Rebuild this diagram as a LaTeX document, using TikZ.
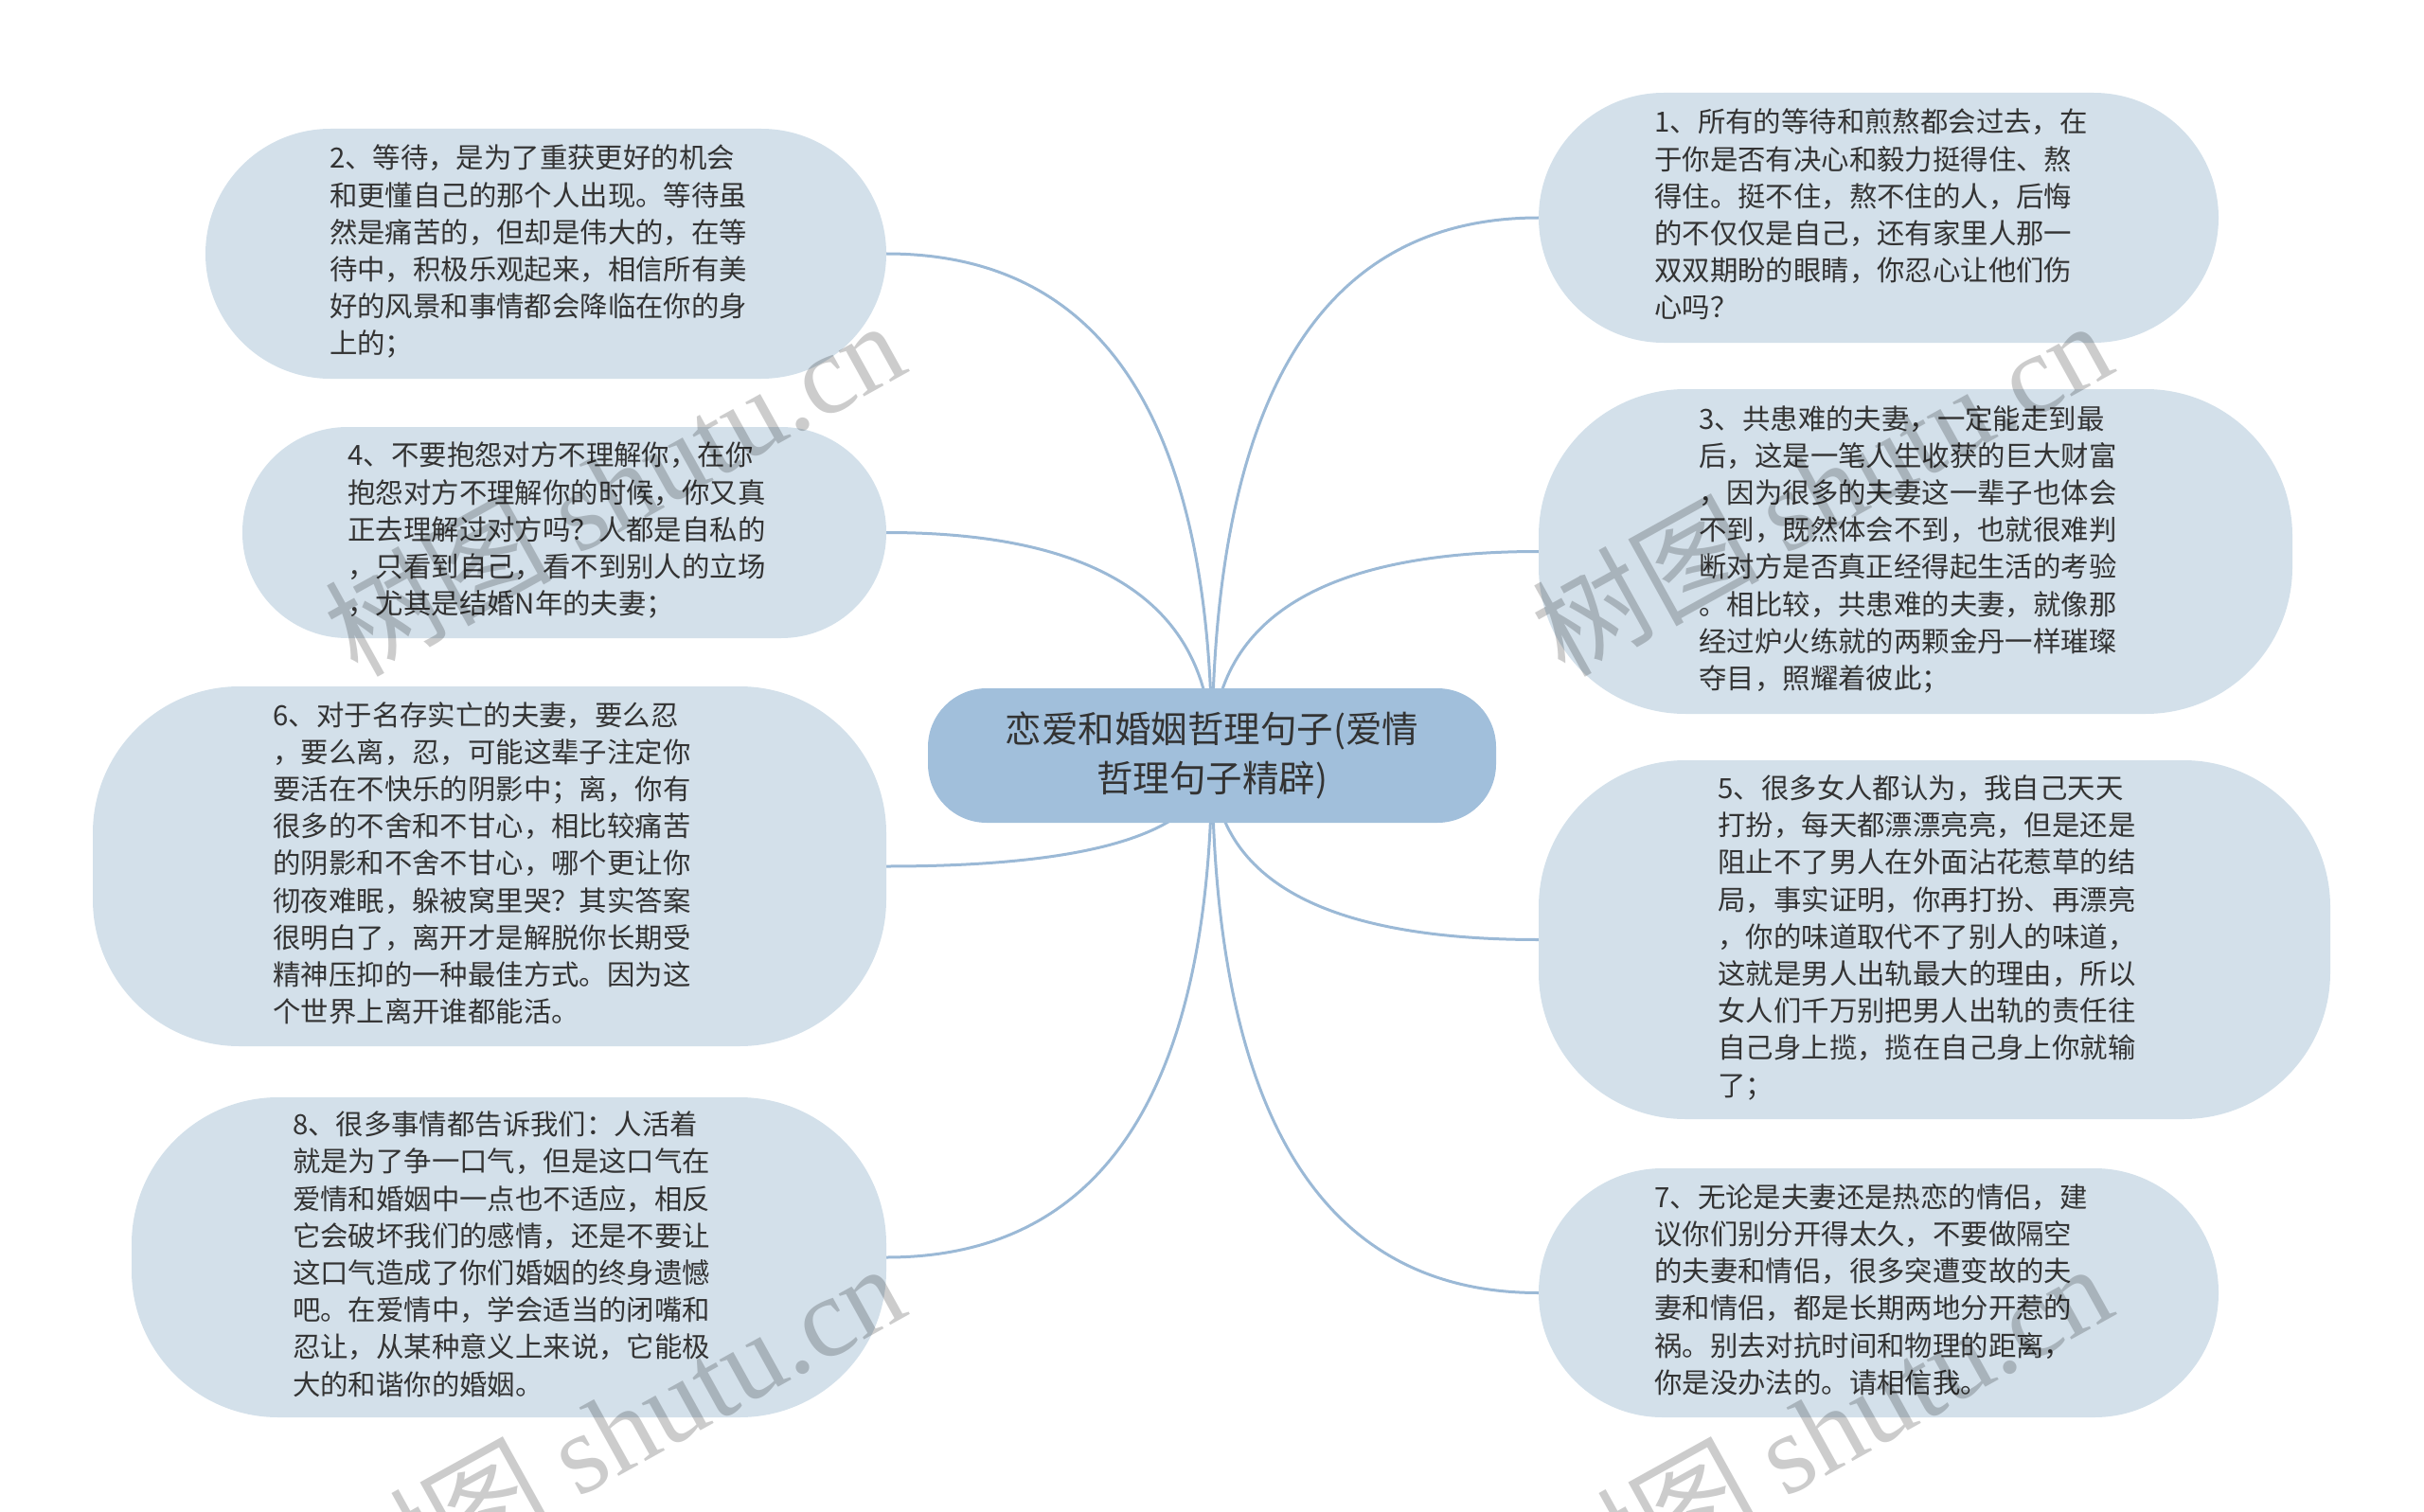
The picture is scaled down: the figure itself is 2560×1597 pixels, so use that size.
\documentclass[tikz,border=0pt]{standalone}
\usepackage{fontspec}
\setmainfont{Noto Sans CJK SC}
\newfontfamily\wmserif{Liberation Serif}
\usetikzlibrary{calc,backgrounds}
\definecolor{leaffill}{HTML}{D3E0EA}
\definecolor{rootfill}{HTML}{A1BFDB}
\definecolor{linkcol}{HTML}{9BB9D6}
\definecolor{txtcol}{HTML}{333333}
\newcommand\leaftxt[1]{\begin{tabular}{@{}l@{\hspace{16pt}}}#1\end{tabular}}
\begin{document}
\begin{tikzpicture}[x=1pt,y=-1pt,
  leaf/.style={fill=leaffill, text=txtcol, inner sep=0pt,
    font=\fontsize{29.4pt}{39.2pt}\selectfont},
  rootnode/.style={fill=rootfill, text=txtcol, align=center, inner sep=0pt,
    font=\fontsize{38.5pt}{52pt}\selectfont},
  link/.style={draw=linkcol, line width=3pt},
  wm/.style={text=black, opacity=0.2, rotate=29, inner sep=0pt,
    font=\fontsize{120pt}{120pt}\selectfont}]
\useasboundingbox (0,0) rectangle (2560,1597);

\node[rootnode, minimum width=600pt, minimum height=142pt, rounded corners=62pt] (c) at (1280,798)
  {恋爱和婚姻哲理句子(爱情\\哲理句子精辟)};

\node[leaf, minimum width=719pt, minimum height=264pt, rounded corners=132pt] (n2) at (576.5,268)
  {\leaftxt{2、等待，是为了重获更好的机会\\和更懂自己的那个人出现。等待虽\\然是痛苦的，但却是伟大的，在等\\待中，积极乐观起来，相信所有美\\好的风景和事情都会降临在你的身\\上的；}};
\node[leaf, minimum width=680pt, minimum height=223pt, rounded corners=111pt] (n4) at (596,562.5)
  {\leaftxt{4、不要抱怨对方不理解你，在你\\抱怨对方不理解你的时候，你又真\\正去理解过对方吗？人都是自私的\\，只看到自己，看不到别人的立场\\，尤其是结婚N年的夫妻；}};
\node[leaf, minimum width=838pt, minimum height=380pt, rounded corners=155pt] (n6) at (517,915)
  {\leaftxt{6、对于名存实亡的夫妻，要么忍\\，要么离，忍，可能这辈子注定你\\要活在不快乐的阴影中；离，你有\\很多的不舍和不甘心，相比较痛苦\\的阴影和不舍不甘心，哪个更让你\\彻夜难眠，躲被窝里哭？其实答案\\很明白了，离开才是解脱你长期受\\精神压抑的一种最佳方式。因为这\\个世界上离开谁都能活。}};
\node[leaf, minimum width=797pt, minimum height=338pt, rounded corners=155pt] (n8) at (537.5,1328)
  {\leaftxt{8、很多事情都告诉我们：人活着\\就是为了争一口气，但是这口气在\\爱情和婚姻中一点也不适应，相反\\它会破坏我们的感情，还是不要让\\这口气造成了你们婚姻的终身遗憾\\吧。在爱情中，学会适当的闭嘴和\\忍让，从某种意义上来说，它能极\\大的和谐你的婚姻。}};

\node[leaf, minimum width=718pt, minimum height=264pt, rounded corners=132pt] (n1) at (1984,230)
  {\leaftxt{1、所有的等待和煎熬都会过去，在\\于你是否有决心和毅力挺得住、熬\\得住。挺不住，熬不住的人，后悔\\的不仅仅是自己，还有家里人那一\\双双期盼的眼睛，你忍心让他们伤\\心吗？}};
\node[leaf, minimum width=796pt, minimum height=343pt, rounded corners=155pt] (n3) at (2023,582.5)
  {\leaftxt{3、共患难的夫妻，一定能走到最\\后，这是一笔人生收获的巨大财富\\，因为很多的夫妻这一辈子也体会\\不到，既然体会不到，也就很难判\\断对方是否真正经得起生活的考验\\。相比较，共患难的夫妻，就像那\\经过炉火练就的两颗金丹一样璀璨\\夺目，照耀着彼此；}};
\node[leaf, minimum width=836pt, minimum height=379pt, rounded corners=155pt] (n5) at (2043,992.5)
  {\leaftxt{5、很多女人都认为，我自己天天\\打扮，每天都漂漂亮亮，但是还是\\阻止不了男人在外面沾花惹草的结\\局，事实证明，你再打扮、再漂亮\\，你的味道取代不了别人的味道，\\这就是男人出轨最大的理由，所以\\女人们千万别把男人出轨的责任往\\自己身上揽，揽在自己身上你就输\\了；}};
\node[leaf, minimum width=718pt, minimum height=263pt, rounded corners=131pt] (n7) at (1984,1365.5)
  {\leaftxt{7、无论是夫妻还是热恋的情侣，建\\议你们别分开得太久，不要做隔空\\的夫妻和情侣，很多突遭变故的夫\\妻和情侣，都是长期两地分开惹的\\祸。别去对抗时间和物理的距离，\\你是没办法的。请相信我。}};

\begin{scope}[on background layer]
\foreach \n in {n2,n4,n6,n8}
  \draw[link] (c.center) .. controls ($(c.center)!2/3!(c.center |- \n.east)$) and ($(\n.east)!2/3!(c.center |- \n.east)$) .. (\n.east);
\foreach \n in {n1,n3,n5,n7}
  \draw[link] (c.center) .. controls ($(c.center)!2/3!(c.center |- \n.west)$) and ($(\n.west)!2/3!(c.center |- \n.west)$) .. (\n.west);
\end{scope}

\node[wm] (wm1) at (648,514) {树图 {\wmserif shutu.cn}};
\node[wm] (wm2) at (1923,514) {树图 {\wmserif shutu.cn}};
\node[wm] (wm3) at (648,1510) {树图 {\wmserif shutu.cn}};
\node[wm] (wm4) at (1923,1510) {树图 {\wmserif shutu.cn}};
\end{tikzpicture}
\end{document}
